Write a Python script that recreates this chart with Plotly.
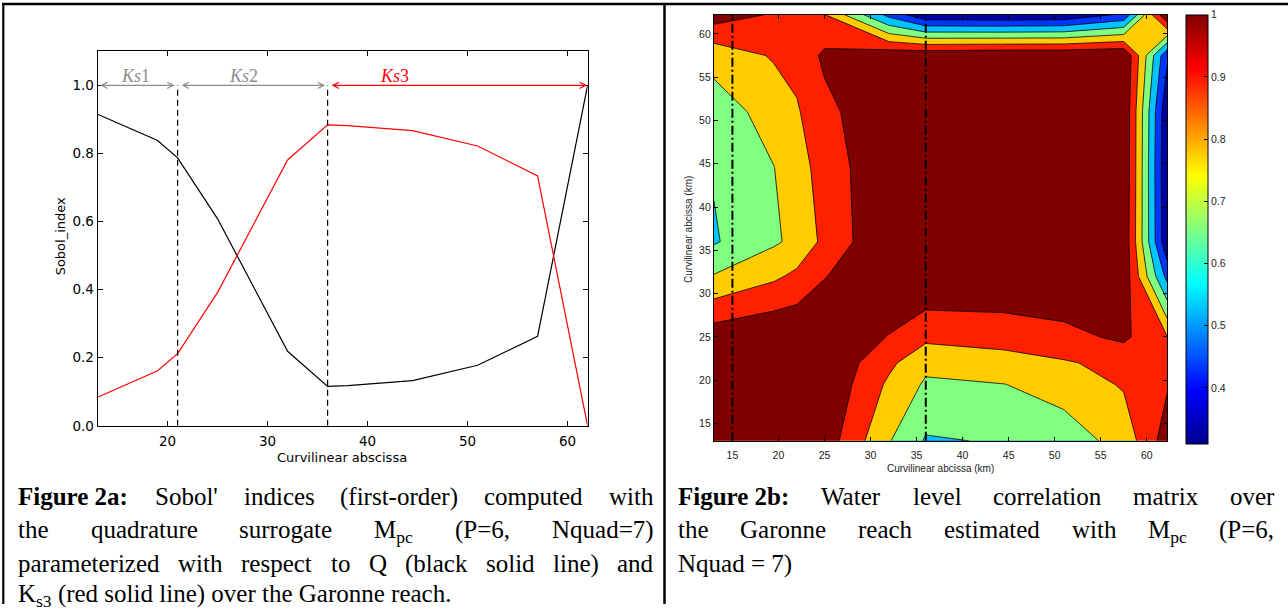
import re
import plotly.graph_objects as go

W, H = 1288, 612

# ---------------- Figure 2a data (Sobol' first-order indices) ----------------
abscissa = [13, 19, 21, 25, 32, 36, 38, 44.5, 51, 57, 62]
sobol_Q = [0.915, 0.838, 0.787, 0.608, 0.219, 0.116, 0.118, 0.133, 0.178, 0.263, 1.0]
sobol_Ks3 = [0.084, 0.162, 0.212, 0.392, 0.781, 0.884, 0.882, 0.867, 0.822, 0.734, 0.0]
ks_limits = [13, 21, 36, 62]
ks_names = ["Ks", "Ks", "Ks"]
ks_index = ["1", "2", "3"]
ks_label_x = [16.8, 27.6, 42.7]
ks_colors = ["#8c8c8c", "#8c8c8c", "#ff0000"]
sobol_xticks = [20, 30, 40, 50, 60]
sobol_yticks = [0.0, 0.2, 0.4, 0.6, 0.8, 1.0]
sobol_yticktext = ["0.0", "0.2", "0.4", "0.6", "0.8", "1.0"]

# ---------------- Figure 2b data (water level correlation matrix) ----------------
corr_km = [13, 19.5, 22, 25, 32, 36, 44.5, 51, 57.5, 62.2]
corr_row_13 = [1.000, 0.975, 0.965, 0.957, 0.707, 0.590, 0.608, 0.650, 0.736, 0.950]
corr_row_19 = [0.975, 1.000, 0.990, 0.988, 0.782, 0.686, 0.698, 0.740, 0.810, 0.890]
corr_row_22 = [0.965, 0.990, 1.000, 0.990, 0.822, 0.725, 0.760, 0.790, 0.830, 0.870]
corr_row_25 = [0.957, 0.988, 0.990, 1.000, 0.895, 0.825, 0.840, 0.870, 0.920, 0.805]
corr_row_32 = [0.707, 0.782, 0.822, 0.895, 1.000, 0.994, 0.990, 0.990, 0.970, 0.470]
corr_row_36 = [0.590, 0.686, 0.725, 0.825, 0.994, 1.000, 0.990, 0.990, 0.980, 0.320]
corr_row_44 = [0.608, 0.698, 0.760, 0.840, 0.990, 0.990, 1.000, 0.995, 0.990, 0.310]
corr_row_51 = [0.650, 0.740, 0.790, 0.870, 0.990, 0.990, 0.995, 1.000, 0.990, 0.320]
corr_row_57 = [0.736, 0.810, 0.830, 0.920, 0.970, 0.980, 0.990, 0.990, 1.000, 0.420]
corr_row_62 = [0.950, 0.890, 0.870, 0.805, 0.470, 0.320, 0.310, 0.320, 0.420, 1.000]
corr_matrix = [corr_row_13, corr_row_19, corr_row_22, corr_row_25, corr_row_32,
               corr_row_36, corr_row_44, corr_row_51, corr_row_57, corr_row_62]
corr_levels = dict(start=0.4, end=0.9, size=0.1)
marker_km = [15, 36]
corr_ticks = [15, 20, 25, 30, 35, 40, 45, 50, 55, 60]
cbar_min, cbar_max = 0.31, 1.0
cbar_ticks = [0.4, 0.5, 0.6, 0.7, 0.8, 0.9, 1.0]
cbar_ticktext = ["0.4", "0.5", "0.6", "0.7", "0.8", "0.9", "1"]

# ---------------- helpers / styles ----------------
def px_x(p):
    return p / W


def px_y(p):
    return 1 - p / H


band_colors = ["#0000a8", "#0036ff", "#00c4ff", "#80ff80", "#ffcc00", "#ff2000", "#800000"]
nb = len(band_colors)
band_scale = []
for k, c in enumerate(band_colors):
    lo = max(0.0, (k - 0.5) / (nb - 1))
    hi = min(1.0, (k + 0.5) / (nb - 1))
    band_scale += [[lo, c], [hi, c]]

jet = [[0.0, "#00008f"], [0.125, "#0000ff"], [0.375, "#00ffff"],
       [0.625, "#ffff00"], [0.875, "#ff0000"], [1.0, "#800000"]]

fig = go.Figure()

# ---- left panel lines
fig.add_trace(go.Scatter(x=abscissa, y=sobol_Q, mode="lines", xaxis="x", yaxis="y",
                         line=dict(color="black", width=1.2), hoverinfo="skip"))
fig.add_trace(go.Scatter(x=abscissa, y=sobol_Ks3, mode="lines", xaxis="x", yaxis="y",
                         line=dict(color="#ff0000", width=1.2), hoverinfo="skip"))

# ---- right panel contour
fig.add_trace(go.Contour(x=corr_km, y=corr_km, z=corr_matrix, xaxis="x2", yaxis="y2",
                         autocontour=False,
                         contours=dict(start=corr_levels["start"], end=corr_levels["end"],
                                       size=corr_levels["size"], coloring="fill", showlines=True),
                         line=dict(color="black", width=0.8, smoothing=0),
                         colorscale=band_scale, showscale=False, hoverinfo="skip"))

# ---- colorbar (continuous jet)
fig.add_trace(go.Scatter(x=[corr_km[0]], y=[corr_km[0]], xaxis="x2", yaxis="y2", mode="markers",
                         hoverinfo="skip",
                         marker=dict(size=1, opacity=0, color=[cbar_min], cmin=cbar_min, cmax=cbar_max,
                                     colorscale=jet, showscale=True,
                                     colorbar=dict(x=px_x(1186), xanchor="left", xpad=0, ypad=0,
                                                   y=px_y(15), yanchor="top", len=(450 - 15) / H,
                                                   lenmode="fraction", thickness=22, thicknessmode="pixels",
                                                   outlinewidth=1, outlinecolor="black",
                                                   tickvals=cbar_ticks, ticktext=cbar_ticktext,
                                                   ticks="inside", ticklen=4, tickcolor="black",
                                                   tickfont=dict(family="Liberation Sans", size=10.5,
                                                                 color="#222")))))

shapes = []
annotations = []

# dashed separators (left)
for xv in ks_limits[1:3]:
    shapes.append(dict(type="line", xref="x", yref="y", x0=xv, x1=xv, y0=0, y1=1.0,
                       line=dict(color="black", width=1.2, dash="6px,4px")))

# Ks arrows and labels
arrow_spans = [(ks_limits[0] + 0.1, ks_limits[1] - 0.3), (ks_limits[1] + 0.25, ks_limits[2] - 0.25),
               (ks_limits[2] + 0.25, ks_limits[3] - 0.05)]
for (a, b), col, name, idx, lx in zip(arrow_spans, ks_colors, ks_names, ks_index, ks_label_x):
    annotations.append(dict(x=b, y=1.0, ax=a, ay=1.0, xref="x", yref="y", axref="x", ayref="y",
                            text="", showarrow=True, arrowhead=5, startarrowhead=5,
                            arrowside="end+start", arrowsize=1, startarrowsize=1,
                            arrowwidth=1.2, arrowcolor=col))
    annotations.append(dict(x=lx, y=1.028, xref="x", yref="y", text="<i>" + name + "</i>" + idx,
                            showarrow=False, xanchor="center", yanchor="middle",
                            font=dict(family="Liberation Serif", size=18, color=col)))

# dash-dot markers (right)
for xv in marker_km:
    shapes.append(dict(type="line", xref="x2", yref="y2 domain", x0=xv, x1=xv, y0=0, y1=1,
                       line=dict(color="black", width=2, dash="9px,3px,2px,3px")))

# table borders
shapes.append(dict(type="line", xref="paper", yref="paper", x0=px_x(2), x1=1, y0=px_y(4), y1=px_y(4),
                   line=dict(color="black", width=2.5)))
shapes.append(dict(type="line", xref="paper", yref="paper", x0=px_x(3.3), x1=px_x(3.3), y0=0,
                   y1=px_y(3), line=dict(color="black", width=2.2)))
shapes.append(dict(type="line", xref="paper", yref="paper", x0=px_x(664.5), x1=px_x(664.5), y0=0,
                   y1=px_y(3), line=dict(color="black", width=2.5)))

# axis titles
annotations.append(dict(text="Curvilinear abscissa", x=px_x(342), y=px_y(464), xref="paper",
                        yref="paper", showarrow=False, xanchor="center", yanchor="middle",
                        font=dict(family="DejaVu Sans", size=13, color="black")))
annotations.append(dict(text="Sobol_index", x=px_x(60.5), y=px_y(240), xref="paper", yref="paper",
                        showarrow=False, textangle=-90, xanchor="center", yanchor="middle",
                        font=dict(family="DejaVu Sans", size=13, color="black")))
annotations.append(dict(text="Curvilinear abcissa (km)", x=px_x(940), y=px_y(475), xref="paper",
                        yref="paper", showarrow=False, xanchor="center", yanchor="middle",
                        font=dict(family="Liberation Sans", size=10, color="#222")))
annotations.append(dict(text="Curvilinear abcissa (km)", x=px_x(689), y=px_y(233), xref="paper",
                        yref="paper", showarrow=False, textangle=-90, xanchor="center",
                        yanchor="middle", font=dict(family="Liberation Sans", size=10, color="#222")))

# ---------------- captions (justified like the source document) ----------------
TR = {" ": 250, "'": 180, "(": 333, ")": 333, ",": 250, "-": 333, ".": 250, ":": 278, "=": 564}
for d in "0123456789":
    TR[d] = 500
TR.update(dict(A=722, B=667, C=667, D=722, E=611, F=556, G=722, H=722, I=333, J=389, K=722, L=611,
               M=889, N=722, O=722, P=556, Q=722, R=667, S=556, T=611, U=722, V=722, W=944, X=722,
               Y=722, Z=611, a=444, b=500, c=444, d=500, e=444, f=333, g=500, h=500, i=278, j=278,
               k=500, l=278, m=778, n=500, o=500, p=500, q=500, r=333, s=389, t=278, u=500, v=500,
               w=722, x=500, y=500, z=444))
TB = dict(F=611, i=278, g=500, u=556, r=444, e=444, a=500, b=556)
TB.update({" ": 250, "2": 500, ":": 333})


def word_width(word, fs):
    bold = False
    sub = False
    total = 0.0
    for tok in re.split(r"(<[^>]+>)", word):
        if not tok:
            continue
        if tok.startswith("<"):
            closing = tok.startswith("</")
            t = tok.strip("</>").lower()
            if t == "b":
                bold = not closing
            elif t == "sub":
                sub = not closing
            continue
        table = TB if bold else TR
        w = sum(table.get(ch, TR.get(ch, 500)) for ch in tok)
        total += w * (0.7 if sub else 1.0)
    return total * fs / 1000.0


CAP_FS = 25
# "|" separates the units that are spread out by justification
left_caption = [
    ("<b>Figure 2a:</b>|Sobol'|indices|(first-order)|computed|with", True),
    ("the|quadrature|surrogate|M<sub>pc</sub>|(P=6,|Nquad=7)", True),
    ("parameterized|with|respect|to|Q|(black|solid|line)|and", True),
    ("K<sub>s3</sub> (red solid line) over the Garonne reach.", False),
]
right_caption = [
    ("<b>Figure 2b:</b>|Water|level|correlation|matrix|over", True),
    ("the|Garonne|reach|estimated|with|M<sub>pc</sub>|(P=6,", True),
    ("Nquad = 7)", False),
]
line_tops = [488.0, 522.0, 556.0, 587.0]


def add_caption(lines, x0, x1):
    for (text, justify), ytop in zip(lines, line_tops):
        font = dict(family="Liberation Serif", size=CAP_FS, color="black")
        if justify:
            words = text.split("|")
            widths = [word_width(w, CAP_FS) for w in words]
            gap = (x1 - x0 - sum(widths)) / (len(words) - 1)
            x = x0
            for w, wd in zip(words, widths):
                annotations.append(dict(text=w, x=px_x(x), y=px_y(ytop), xref="paper", yref="paper",
                                        xanchor="left", yanchor="top", showarrow=False, borderpad=0,
                                        font=font))
                x += wd + gap
        else:
            annotations.append(dict(text=text, x=px_x(x0), y=px_y(ytop), xref="paper", yref="paper",
                                    xanchor="left", yanchor="top", showarrow=False, borderpad=0,
                                    font=font))


add_caption(left_caption, 17.3, 652.5)
add_caption(right_caption, 676.5, 1273)

left_axis_common = dict(showline=True, linecolor="black", linewidth=1, mirror="ticks", ticks="inside",
                        ticklen=5, tickcolor="black", showgrid=False, zeroline=False,
                        tickfont=dict(family="DejaVu Sans", size=13.5, color="black"))
right_axis_common = dict(showline=True, linecolor="black", linewidth=1.3, mirror="ticks", ticks="inside",
                         ticklen=4, tickcolor="black", showgrid=False, zeroline=False,
                         tickvals=corr_ticks, range=[corr_km[0], corr_km[-1]],
                         tickfont=dict(family="Liberation Sans", size=10.5, color="#222"))

fig.update_layout(
    width=W, height=H, margin=dict(l=0, r=0, t=0, b=0), autosize=False,
    paper_bgcolor="white", plot_bgcolor="white", showlegend=False,
    xaxis=dict(domain=[px_x(97.6), px_x(587.6)], range=[13, 62], tickvals=sobol_xticks, anchor="y",
               ticklabelstandoff=3, **left_axis_common),
    yaxis=dict(domain=[px_y(431.5), px_y(52)], range=[0, 1.1], tickvals=sobol_yticks,
               ticktext=sobol_yticktext, anchor="x", **left_axis_common),
    xaxis2=dict(domain=[px_x(714), px_x(1167)], anchor="y2", ticklabelstandoff=4, **right_axis_common),
    yaxis2=dict(domain=[px_y(446.7), px_y(15)], anchor="x2", **right_axis_common),
    shapes=shapes, annotations=annotations,
)

fig.write_html("out.html")
